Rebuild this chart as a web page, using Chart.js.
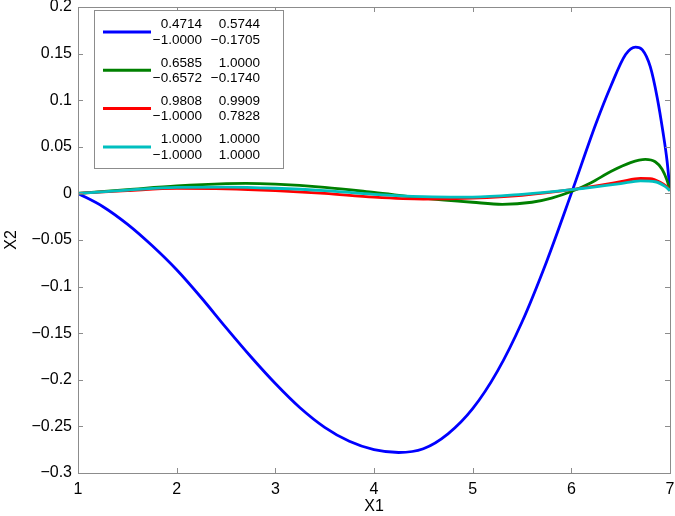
<!DOCTYPE html>
<html>
<head>
<meta charset="utf-8">
<script src="https://cdn.jsdelivr.net/npm/chart.js@4.4.1/dist/chart.umd.min.js"></script>
<style>
    html, body { margin: 0; padding: 0; background: #ffffff; }
    #wrap { width: 675px; height: 516px; }
</style>
</head>
<body>
<div id="wrap"><canvas id="chart" width="675" height="516"></canvas></div>
<script>
// Curve samples (x = X1, y = X2)
const blueX = [1.0, 1.25, 1.5, 1.75, 2.0, 2.25, 2.5, 2.75, 3.0, 3.25, 3.5, 3.75, 4.0, 4.25, 4.5, 4.75, 5.0, 5.25, 5.5, 5.75, 6.0, 6.25, 6.4, 6.55, 6.65, 6.72, 6.8, 6.87, 6.93, 6.97, 7.0];
const blueY = [0, -0.014, -0.033, -0.056, -0.082, -0.112, -0.144, -0.175, -0.204, -0.230, -0.251, -0.266, -0.275, -0.278, -0.274, -0.258, -0.231, -0.191, -0.138, -0.073, 0.000, 0.075, 0.115, 0.149, 0.157, 0.154, 0.136, 0.103, 0.065, 0.035, 0.003];

const greenX = [1.0, 1.5, 2.0, 2.5, 2.7, 3.0, 3.5, 4.0, 4.5, 5.0, 5.3, 5.6, 5.8, 6.0, 6.2, 6.4, 6.6, 6.75, 6.85, 6.92, 6.97, 7.0];
const greenY = [0, 0.004, 0.008, 0.0105, 0.0108, 0.010, 0.0065, 0.001, -0.005, -0.0095, -0.0117, -0.0095, -0.005, 0.002, 0.0115, 0.0235, 0.033, 0.0365, 0.034, 0.026, 0.014, 0.003];

const redX = [1.0, 1.5, 2.0, 2.5, 3.0, 3.5, 4.0, 4.5, 5.0, 5.5, 6.0, 6.3, 6.5, 6.7, 6.8, 6.9, 6.97, 7.0];
const redY = [0, 0.003, 0.0055, 0.005, 0.003, 0.0, -0.004, -0.006, -0.005, -0.002, 0.004, 0.009, 0.0125, 0.016, 0.0158, 0.012, 0.007, 0.003];

const cyanX = [1.0, 1.5, 2.0, 2.5, 3.0, 3.5, 4.0, 4.5, 5.0, 5.5, 6.0, 6.5, 6.7, 6.85, 6.95, 7.0];
const cyanY = [0, 0.0035, 0.0065, 0.0067, 0.0055, 0.003, -0.001, -0.0035, -0.004, -0.001, 0.004, 0.0105, 0.0135, 0.0125, 0.0075, 0.003];

// Legend entries: two rows of two numbers each
const legendBlue = [['0.4714', '0.5744'], ['\u22121.0000', '\u22120.1705']];
const legendGreen = [['0.6585', '1.0000'], ['\u22120.6572', '\u22120.1740']];
const legendRed = [['0.9808', '0.9909'], ['\u22121.0000', '0.7828']];
const legendCyan = [['1.0000', '1.0000'], ['\u22121.0000', '1.0000']];

const xTicks = [1, 2, 3, 4, 5, 6, 7];
const yTicks = [-0.3, -0.25, -0.2, -0.15, -0.1, -0.05, 0, 0.05, 0.1, 0.15, 0.2];

const FONT = '"Liberation Sans", Arial, Helvetica, sans-serif';

function toPoints(xs, ys) {
    return xs.map((x, i) => ({ x: x, y: ys[i] }));
}

function fmt(v) {
    const r = Math.round(v * 100) / 100;
    if (r === 0) return '0';
    return String(r).replace('-', '\u2212');
}

/**
 * MATLAB style box with inward ticks on all four sides
 */
const boxPlugin = {
    id: 'box',
    afterDraw(chart) {
        const ctx = chart.ctx;
        const a = chart.chartArea;
        const xs = chart.scales.x;
        const ys = chart.scales.y;
        const len = 5;
        ctx.save();
        ctx.strokeStyle = '#8c8c8c';
        ctx.lineWidth = 1;
        ctx.beginPath();
        xTicks.forEach(t => {
            const px = Math.round(xs.getPixelForValue(t)) + 0.5;
            ctx.moveTo(px, a.bottom); ctx.lineTo(px, a.bottom - len);
            ctx.moveTo(px, a.top); ctx.lineTo(px, a.top + len);
        });
        yTicks.forEach(t => {
            const py = Math.round(ys.getPixelForValue(t)) + 0.5;
            ctx.moveTo(a.left, py); ctx.lineTo(a.left + len, py);
            ctx.moveTo(a.right, py); ctx.lineTo(a.right - len, py);
        });
        ctx.stroke();
        ctx.strokeRect(Math.round(a.left) + 0.5, Math.round(a.top) + 0.5,
            Math.round(a.right - a.left), Math.round(a.bottom - a.top));
        ctx.restore();
    }
};

/**
 * Custom legend box with two-row numeric labels
 */
const legendPlugin = {
    id: 'matLegend',
    afterDraw(chart) {
        const ctx = chart.ctx;
        const entries = [
            { color: '#0000ff', rows: legendBlue },
            { color: '#008000', rows: legendGreen },
            { color: '#ff0000', rows: legendRed },
            { color: '#00bfbf', rows: legendCyan }
        ];
        const left = 94, top = 10, w = 189, h = 158;
        ctx.save();
        ctx.fillStyle = '#ffffff';
        ctx.fillRect(left, top, w, h);
        ctx.strokeStyle = '#8c8c8c';
        ctx.lineWidth = 1;
        ctx.strokeRect(left + 0.5, top + 0.5, w, h);
        ctx.font = '13.5px ' + FONT;
        ctx.fillStyle = '#000000';
        ctx.textBaseline = 'middle';
        ctx.textAlign = 'right';
        entries.forEach((e, i) => {
            const cy = 32 + i * 38.3;
            ctx.strokeStyle = e.color;
            ctx.lineWidth = 3;
            ctx.beginPath();
            ctx.moveTo(103, cy);
            ctx.lineTo(151, cy);
            ctx.stroke();
            e.rows.forEach((row, r) => {
                const ty = cy - 7.5 + r * 15.5;
                ctx.fillText(row[0], 202, ty);
                ctx.fillText(row[1], 260, ty);
            });
        });
        ctx.restore();
    }
};

function lineSet(label, xs, ys, color, order) {
    return {
        label: label,
        data: toPoints(xs, ys),
        borderColor: color,
        backgroundColor: color,
        borderWidth: 2.8,
        pointRadius: 0,
        showLine: true,
        fill: false,
        cubicInterpolationMode: 'monotone',
        order: order
    };
}

new Chart(document.getElementById('chart'), {
    type: 'scatter',
    data: {
        datasets: [
            lineSet('blue', blueX, blueY, '#0000ff', 4),
            lineSet('green', greenX, greenY, '#008000', 3),
            lineSet('red', redX, redY, '#ff0000', 2),
            lineSet('cyan', cyanX, cyanY, '#00bfbf', 1)
        ]
    },
    options: {
        responsive: false,
        animation: false,
        layout: { padding: { top: 7, right: 5, left: 0, bottom: 0 } },
        scales: {
            x: {
                type: 'linear',
                min: 1,
                max: 7,
                afterBuildTicks: s => { s.ticks = xTicks.map(v => ({ value: v })); },
                afterFit: s => { s.height = 43; s.paddingLeft = 0; s.paddingRight = 0; },
                grid: { display: false, drawTicks: false },
                border: { display: false },
                ticks: {
                    color: '#000000',
                    padding: 7,
                    maxRotation: 0,
                    font: { family: FONT, size: 16 },
                    callback: v => String(v)
                },
                title: {
                    display: true,
                    text: 'X1',
                    color: '#000000',
                    padding: { top: 0, bottom: 0 },
                    font: { family: FONT, size: 16 }
                }
            },
            y: {
                type: 'linear',
                min: -0.3,
                max: 0.2,
                afterBuildTicks: s => { s.ticks = yTicks.map(v => ({ value: v })); },
                afterFit: s => { s.width = 78; s.paddingTop = 0; s.paddingBottom = 0; },
                grid: { display: false, drawTicks: false },
                border: { display: false },
                ticks: {
                    color: '#000000',
                    padding: 6,
                    font: { family: FONT, size: 16 },
                    callback: v => fmt(v)
                },
                title: {
                    display: true,
                    text: 'X2',
                    color: '#000000',
                    padding: { top: 2, bottom: 0 },
                    font: { family: FONT, size: 16 }
                }
            }
        },
        plugins: {
            legend: { display: false },
            tooltip: { enabled: false }
        }
    },
    plugins: [boxPlugin, legendPlugin]
});
</script>
</body>
</html>
